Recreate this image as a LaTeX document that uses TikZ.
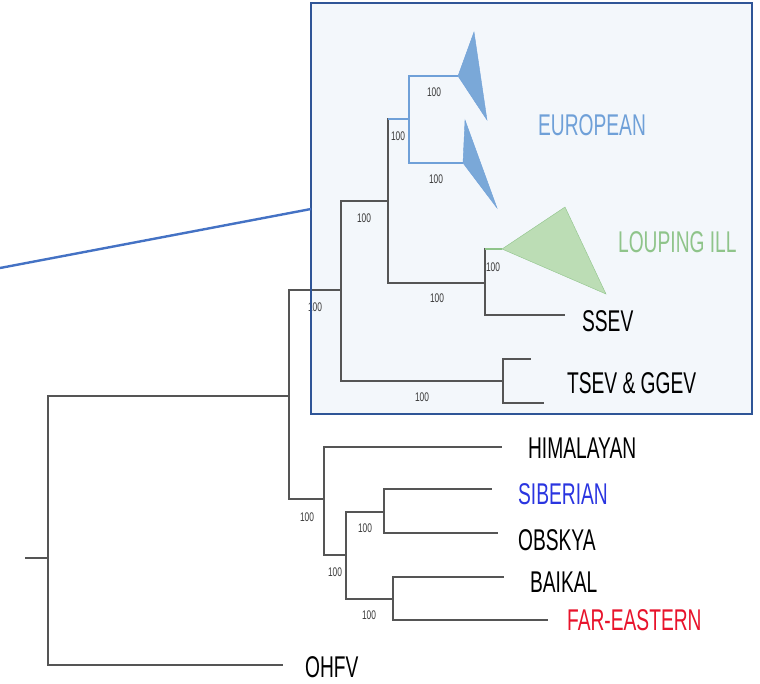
\documentclass[tikz,border=0pt]{standalone}
\usepackage{fontspec}
\setmainfont{Liberation Sans}
\definecolor{boxfill}{HTML}{F3F7FB}
\definecolor{boxline}{HTML}{2F5597}
\definecolor{linkblue}{HTML}{4472C4}
\definecolor{eurblue}{HTML}{6FA0D8}
\definecolor{eurfill}{HTML}{7AA8D8}
\definecolor{ligreen}{HTML}{8FC48A}
\definecolor{lifill}{HTML}{BCDDB5}
\definecolor{sibblue}{HTML}{2A35E0}
\definecolor{farred}{HTML}{E8132B}
\definecolor{branch}{HTML}{555555}

\begin{document}
\begin{tikzpicture}[x=1pt, y=-1pt, line join=miter,
		tree/.style={draw=branch, line width=1.2pt},
		taxon/.style={anchor=west, inner sep=0pt, xscale=0.64, font=\fontsize{30}{30}\selectfont},
		boot/.style={inner sep=0pt, xscale=0.67, text=branch!70!black, font=\fontsize{12.5}{12.5}\selectfont}]
	\useasboundingbox (0,0) rectangle (760,683);
	
	% highlighted clade box
	\path (311,3) coordinate (B1) (752,414) coordinate (B2)
	(0,268) coordinate (Z) (311,209) coordinate (Y);
	\fill[boxfill] (B1) rectangle (B2);
	
	% internal nodes
	\path (25,558) coordinate (S)
	(48,558) coordinate (R)
	(289,396) coordinate (N1)
	(341,290) coordinate (N2)
	(388,201) coordinate (N3)
	(409,119) coordinate (EU)
	(485,283) coordinate (N5)
	(503,381) coordinate (TS)
	(324,499) coordinate (N7)
	(346,555) coordinate (N8)
	(384,512) coordinate (N9)
	(393,599) coordinate (N10);
	
	% tips
	\path (283,665) coordinate (OH)
	(458,76) coordinate (E1)
	(463,163) coordinate (E2)
	(502,249) coordinate (LI)
	(565,315) coordinate (SS)
	(531,359) coordinate (T1)
	(544,403) coordinate (T2)
	(502,447) coordinate (HI)
	(492,489) coordinate (SI)
	(498,533) coordinate (OB)
	(504,577) coordinate (BA)
	(548,620) coordinate (FE);
	
	\draw[tree] (S) -- (R);
	\foreach \p/\c in {R/N1, R/OH, N1/N2, N1/N7, N2/N3, N2/TS, N3/EU, N3/N5,
		N5/LI, N5/SS, TS/T1, TS/T2, N7/HI, N7/N8, N8/N9, N8/N10,
		N9/SI, N9/OB, N10/BA, N10/FE}
	\draw[tree] (\p) |- (\c);
	
	% coloured stems
	\draw[eurblue, line width=1.2pt] (N3 |- EU) -- (EU);
	\draw[eurblue, line width=1.2pt] (EU) |- (E1) (EU) |- (E2);
	\draw[ligreen, line width=1.2pt] (N5 |- LI) -- (LI);
	
	% collapsed clades
	\filldraw[fill=eurfill, draw=eurblue] (E1) -- (474,32) -- (487,120) -- cycle;
	\filldraw[fill=eurfill, draw=eurblue] (E2) -- (465,120) -- (497,208) -- cycle;
	\filldraw[fill=lifill, draw=ligreen] (LI) -- (565,207) -- (606,294) -- cycle;
	
	% bootstrap values
	\foreach \x/\y in {434/92, 436/179, 398/136, 364/218, 493/267, 437/298,
		315/307, 422/397, 307/517, 365/528, 335/572, 369/615}
	\node[boot] at (\x,\y) {100};
	
	\draw[boxline, line width=2.4pt] (B1) rectangle (B2);
	\draw[linkblue, line width=2.4pt] (Z) -- (Y);
	
	% taxon labels
	\node[taxon, text=eurblue] (eur) at (538,125) {EUROPEAN};
	\node[taxon, text=ligreen] (lou) at (618,242) {LOUPING ILL};
	\node[taxon] (ssev) at (582,321) {SSEV};
	\node[taxon] (tsev) at (567,383) {TSEV \& GGEV};
	\node[taxon] (him) at (528,448) {HIMALAYAN};
	\node[taxon, text=sibblue] (sib) at (518,494) {SIBERIAN};
	\node[taxon] (obs) at (518,540) {OBSKYA};
	\node[taxon] (bai) at (530,582) {BAIKAL};
	\node[taxon, text=farred] (far) at (567,620) {FAR-EASTERN};
	\node[taxon] (ohfv) at (305,667) {OHFV};
\end{tikzpicture}
\end{document}
